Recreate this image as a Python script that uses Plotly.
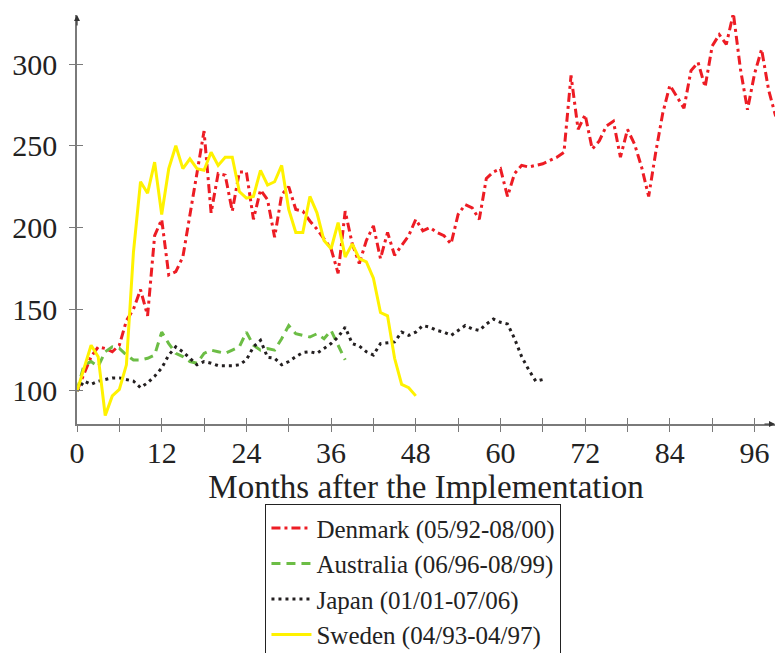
import plotly.graph_objects as go

# ---------------- data ----------------
denmark = [100, 111, 121, 127, 126, 124, 128, 143, 150, 162,
           146, 195, 205, 171, 173, 182, 207, 232, 259, 209,
           233, 232, 210, 234, 234, 205, 223, 217, 194, 220,
           225, 211, 210, 204, 199, 193, 187, 172, 210, 190,
           178, 192, 201, 181, 197, 183, 189, 195, 205, 198,
           200, 197, 195, 190, 208, 214, 212, 205, 230, 234,
           236, 219, 233, 238, 237, 238, 239, 241, 243, 246,
           293, 260, 269, 248, 253, 262, 265, 243, 260, 251,
           237, 219, 246, 270, 287, 280, 273, 296, 301, 286,
           311, 318, 312, 331, 297, 272, 294, 309, 284, 268]
australia = [100, 116, 118, 115, 124, 127, 126, 122, 119, 119,
             120, 122, 136, 129, 123, 121, 118, 117, 123, 125,
             124, 123, 125, 127, 136, 128, 125, 126, 125, 132,
             140, 135, 134, 133, 135, 132, 137, 128, 119]
japan = [100, 106, 104, 106, 107, 108, 108, 107, 106, 102,
         105, 109, 114, 122, 127, 124, 120, 116, 118, 117,
         115.5, 115.5, 115.5, 116, 119, 127, 131, 120.6, 120, 116,
         118, 121, 123.5, 124, 123, 126, 129, 133, 139, 129,
         127.5, 124, 122, 129, 129.5, 130, 136, 134, 136, 140,
         139, 137, 136, 134, 137, 140, 138, 137, 141, 144,
         142, 141, 132, 121, 113, 106, 107]
sweden = [100, 114, 128, 121, 85, 97, 101, 116, 185, 228,
          221, 240, 208, 236, 250, 236, 242, 236, 235, 246,
          238, 243, 243, 222, 218, 219, 235, 226, 228, 238,
          211, 197, 197, 219, 209, 192, 187, 203, 182, 190,
          181, 179, 169, 148, 146, 120, 104, 102, 97]

series_names = ["Denmark (05/92-08/00)", "Australia (06/96-08/99)",
                "Japan (01/01-07/06)", "Sweden (04/93-04/97)"]
x_tick_vals = list(range(0, 97, 6))
x_tick_text = [str(v) if v % 12 == 0 else "" for v in x_tick_vals]
y_tick_vals = [100, 150, 200, 250, 300]
x_title = "Months after the Implementation"

# ---------------- styling ----------------
FONT = "Liberation Serif"
AXIS_COL = "#7a7a7a"
styles = [
    dict(color="#ed1c24", width=3, dash="9px,4px,3px,4px"),
    dict(color="#6cbd45", width=3, dash="9px,6px"),
    dict(color="#231f20", width=3, dash="3px,4px"),
    dict(color="#fff200", width=3, dash="solid"),
]

fig = go.Figure()
for name, vals, st in zip(series_names, [denmark, australia, japan, sweden], styles):
    fig.add_trace(go.Scatter(
        x=list(range(len(vals))), y=vals, mode="lines", name=name,
        line=st, cliponaxis=True, hoverinfo="skip"))

# dummy trace so the overlay axes (for crossing ticks) are drawn
fig.add_trace(go.Scatter(x=[None], y=[None], xaxis="x2", yaxis="y2",
                         showlegend=False, hoverinfo="skip"))

X_RANGE = [0, 98.9]
Y_RANGE = [79.8, 330]

fig.update_layout(
    width=775, height=645,
    margin=dict(l=69, r=8, t=7, b=229, pad=0, autoexpand=False),
    paper_bgcolor="white", plot_bgcolor="white",
    font=dict(family=FONT, color="#222222"),
    xaxis=dict(range=X_RANGE, tickvals=x_tick_vals, ticktext=x_tick_text,
               ticks="outside", ticklen=6, tickwidth=1, tickcolor=AXIS_COL,
               showline=True, linecolor=AXIS_COL, linewidth=1.5,
               showgrid=False, zeroline=False, automargin=False,
               ticklabelstandoff=-5,
               tickfont=dict(family=FONT, size=30, color="#222222"),
               title=dict(text=x_title, font=dict(family=FONT, size=33, color="#222222"),
                          standoff=4)),
    yaxis=dict(range=Y_RANGE, tickvals=y_tick_vals,
               ticks="outside", ticklen=6, tickwidth=1, tickcolor=AXIS_COL,
               showline=True, linecolor=AXIS_COL, linewidth=1.5,
               showgrid=False, zeroline=False, automargin=False,
               ticklabelstandoff=6,
               tickfont=dict(family=FONT, size=30, color="#222222")),
    xaxis2=dict(range=X_RANGE, overlaying="x", anchor="y2", tickvals=x_tick_vals,
                ticks="inside", ticklen=6, tickwidth=1, tickcolor=AXIS_COL,
                showticklabels=False, showline=False, showgrid=False, zeroline=False),
    yaxis2=dict(range=Y_RANGE, overlaying="y", anchor="x2", tickvals=y_tick_vals,
                ticks="inside", ticklen=6, tickwidth=1, tickcolor=AXIS_COL,
                showticklabels=False, showline=False, showgrid=False, zeroline=False),
    legend=dict(x=0.27, y=-0.196, xanchor="left", yanchor="top",
                bordercolor="#222222", borderwidth=1, bgcolor="white",
                font=dict(family=FONT, size=25, color="#222222"),
                itemwidth=40, tracegroupgap=0),
    showlegend=True,
)

# arrow heads at axis ends
fig.add_annotation(x=0, y=Y_RANGE[1], xref="x", yref="y", ax=0, ay=12,
                   showarrow=True, arrowhead=2, arrowsize=1, arrowwidth=1.2,
                   arrowcolor="#333333", text="")
fig.add_annotation(x=X_RANGE[1], y=Y_RANGE[0], xref="x", yref="y", ax=-12, ay=0,
                   showarrow=True, arrowhead=2, arrowsize=1, arrowwidth=1.2,
                   arrowcolor="#333333", text="")

fig.write_html("out.html")
